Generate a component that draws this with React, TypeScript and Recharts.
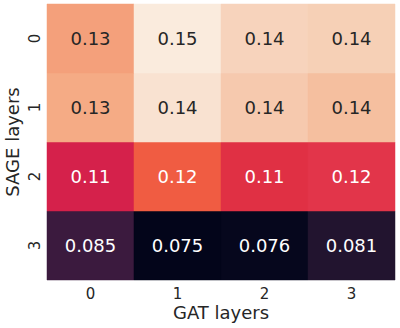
import { BarChart, Bar, XAxis, YAxis, Cell, LabelList } from 'recharts'

// GAT layers along x, SAGE layers along y (row 0 on top)
const gatLayers = ['0', '1', '2', '3']
const sageLayers = ['0', '1', '2', '3']

const sage0 = [0.13, 0.15, 0.14, 0.14]
const sage1 = [0.13, 0.14, 0.14, 0.14]
const sage2 = [0.11, 0.12, 0.11, 0.12]
const sage3 = [0.085, 0.075, 0.076, 0.081]

// rocket colormap
const colors0 = ['#F4A07B', '#FAEBDD', '#F7D3BC', '#F6D0B6']
const colors1 = ['#F5AB85', '#F9E2D1', '#F6C9AE', '#F5BF9F']
const colors2 = ['#D5214B', '#F05C42', '#E03044', '#E2354A']
const colors3 = ['#3B1A3E', '#03051A', '#06071D', '#22142F']

const rows = [sage0, sage1, sage2, sage3]
const rowColors = [colors0, colors1, colors2, colors3]
const darkRows = [false, false, true, true]

const FONT = '"DejaVu Sans", sans-serif'
const INK = '#262626'

// each cell is one unit tall, stacked bottom-up (row 3 first)
const data = gatLayers.map((g) => ({ gat: g, r0: 1, r1: 1, r2: 1, r3: 1 }))

function cellLabel(row: number) {
  return (props: any) => {
    const { x, y, width, height, index } = props
    return (
      <text
        x={x + width / 2}
        y={y + height / 2}
        textAnchor="middle"
        dominantBaseline="central"
        fontSize={18}
        fontFamily={FONT}
        fill={darkRows[row] ? '#ffffff' : INK}
      >
        {rows[row][index].toPrecision(2)}
      </text>
    )
  }
}

function XTick(props: any) {
  const { x, payload } = props
  return (
    <text x={x} y={299} textAnchor="middle" fontSize={15} fontFamily={FONT} fill={INK}>
      {payload.value}
    </text>
  )
}

function YTick(props: any) {
  const { y, payload } = props
  const label = sageLayers[3 - Math.floor(payload.value)]
  return (
    <text
      x={40}
      y={y}
      transform={`rotate(-90, 40, ${y})`}
      textAnchor="middle"
      fontSize={15}
      fontFamily={FONT}
      fill={INK}
    >
      {label}
    </text>
  )
}

function YLabel(props: any) {
  const { viewBox } = props
  const cy = viewBox.y + viewBox.height / 2
  return (
    <text
      x={19}
      y={cy}
      transform={`rotate(-90, 19, ${cy})`}
      textAnchor="middle"
      fontSize={18}
      fontFamily={FONT}
      fill={INK}
    >
      SAGE layers
    </text>
  )
}

export default function App() {
  const order = [3, 2, 1, 0]
  return (
    <div style={{ width: 400, height: 328 }}>
      <style>{'body{margin:0}'}</style>
      <BarChart
        width={400}
        height={328}
        data={data}
        margin={{ top: 4, right: 5, left: 0, bottom: 0 }}
        barCategoryGap={0}
        barGap={0}
      >
        <XAxis
          dataKey="gat"
          height={48}
          axisLine={false}
          tickLine={false}
          tick={<XTick />}
          label={{
            value: 'GAT layers',
            position: 'insideBottom',
            offset: 9,
            fontSize: 18,
            fontFamily: FONT,
            fill: INK,
          }}
        />
        <YAxis
          type="number"
          domain={[0, 4]}
          ticks={[0.5, 1.5, 2.5, 3.5]}
          width={47}
          axisLine={false}
          tickLine={false}
          tick={<YTick />}
          label={<YLabel />}
        />
        {order.map((r) => (
          <Bar key={r} dataKey={`r${r}`} stackId="grid" isAnimationActive={false}>
            {gatLayers.map((g, i) => (
              <Cell key={g} fill={rowColors[r][i]} stroke={rowColors[r][i]} strokeWidth={0.5} />
            ))}
            <LabelList content={cellLabel(r)} />
          </Bar>
        ))}
      </BarChart>
    </div>
  )
}
